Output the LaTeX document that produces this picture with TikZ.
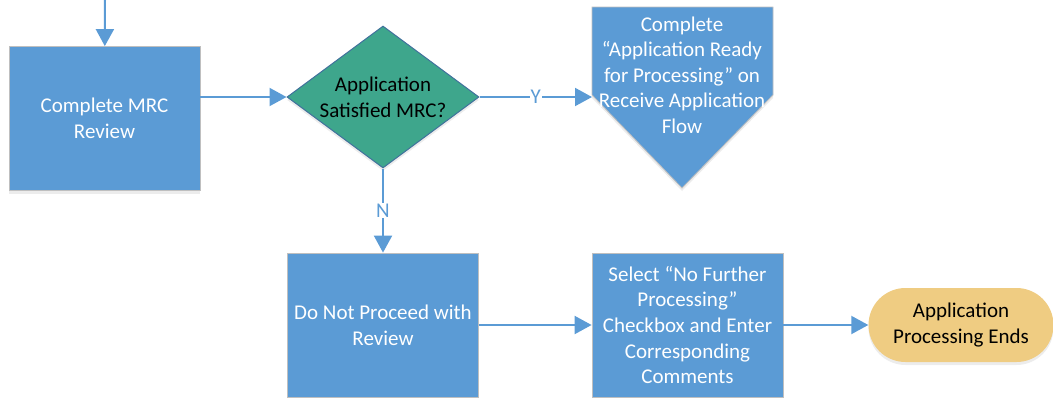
\documentclass[tikz,border=0pt]{standalone}
\usepackage{fontspec}
\setmainfont{Carlito}
\usetikzlibrary{arrows.meta,shapes.geometric,shadows}

\definecolor{taskblue}{HTML}{5B9BD5}
\definecolor{gateteal}{HTML}{3EA68C}
\definecolor{gateedge}{HTML}{41719C}
\definecolor{endgold}{HTML}{EFCC82}

\begin{document}
\begin{tikzpicture}[x=1pt,y=-1pt,
  font=\fontsize{21}{25.6}\selectfont,
  shade/.style={drop shadow={shadow xshift=0pt,shadow yshift=-3pt,opacity=.15,fill=gray}},
  task/.style={rectangle,draw=white!75!black,line width=.8pt,fill=taskblue,text=white,
    minimum width=191pt,minimum height=144pt,align=center,inner sep=0pt,shade},
  gate/.style={diamond,draw=gateedge,line width=1pt,fill=gateteal,aspect=1.35,
    minimum width=192pt,minimum height=142pt,align=center,inner sep=0pt,shade},
  finish/.style={rectangle,rounded corners=37pt,fill=endgold,minimum width=185pt,
    minimum height=74pt,align=center,inner sep=0pt,shade},
  flow/.style={taskblue,line width=2pt,-{Triangle[length=17pt,width=18pt]}},
  tag/.style={fill=white,text=taskblue,inner sep=1pt}]
\useasboundingbox (0,0) rectangle (1053,397);
\clip (0,0) rectangle (1053,397);

\coordinate (start) at (105,0);
\coordinate (ready in) at (592,97);

%\draw[gray,step=50pt] (0,0) grid (1053,397);
\fill[taskblue,draw=white!75!black,line width=.8pt,shade]
  (592,7) -- (773,7) -- (773,95) -- (682,188) -- (592,95) -- cycle;

\node[task] (mrc) at (104.5,118.5) {Complete MRC\\Review};
\node[gate] (sat) at (383,97) {Application\\Satisfied MRC?};
\node[text=white,align=center] (ready) at (682,75)
  {Complete\\“Application Ready\\for Processing” on\\Receive Application\\Flow};
\node[task] (stop) at (383,325) {Do Not Proceed with\\Review};
\node[task] (nfp) at (687.5,325)
  {Select “No Further\\Processing”\\Checkbox and Enter\\Corresponding\\Comments};
\node[finish] (end) at (961,325) {Application\\Processing Ends};

\draw[flow] (start) -- (mrc);
\draw[flow] (mrc.east |- sat) -- (sat.west);
\draw[flow] (sat.east) -- node[tag] {Y} (ready in);
\draw[flow] (sat.south) -- node[tag] {N} (stop.north);
\draw[flow] (stop) -- (nfp);
\draw[flow] (nfp) -- (end);
\end{tikzpicture}
\end{document}
